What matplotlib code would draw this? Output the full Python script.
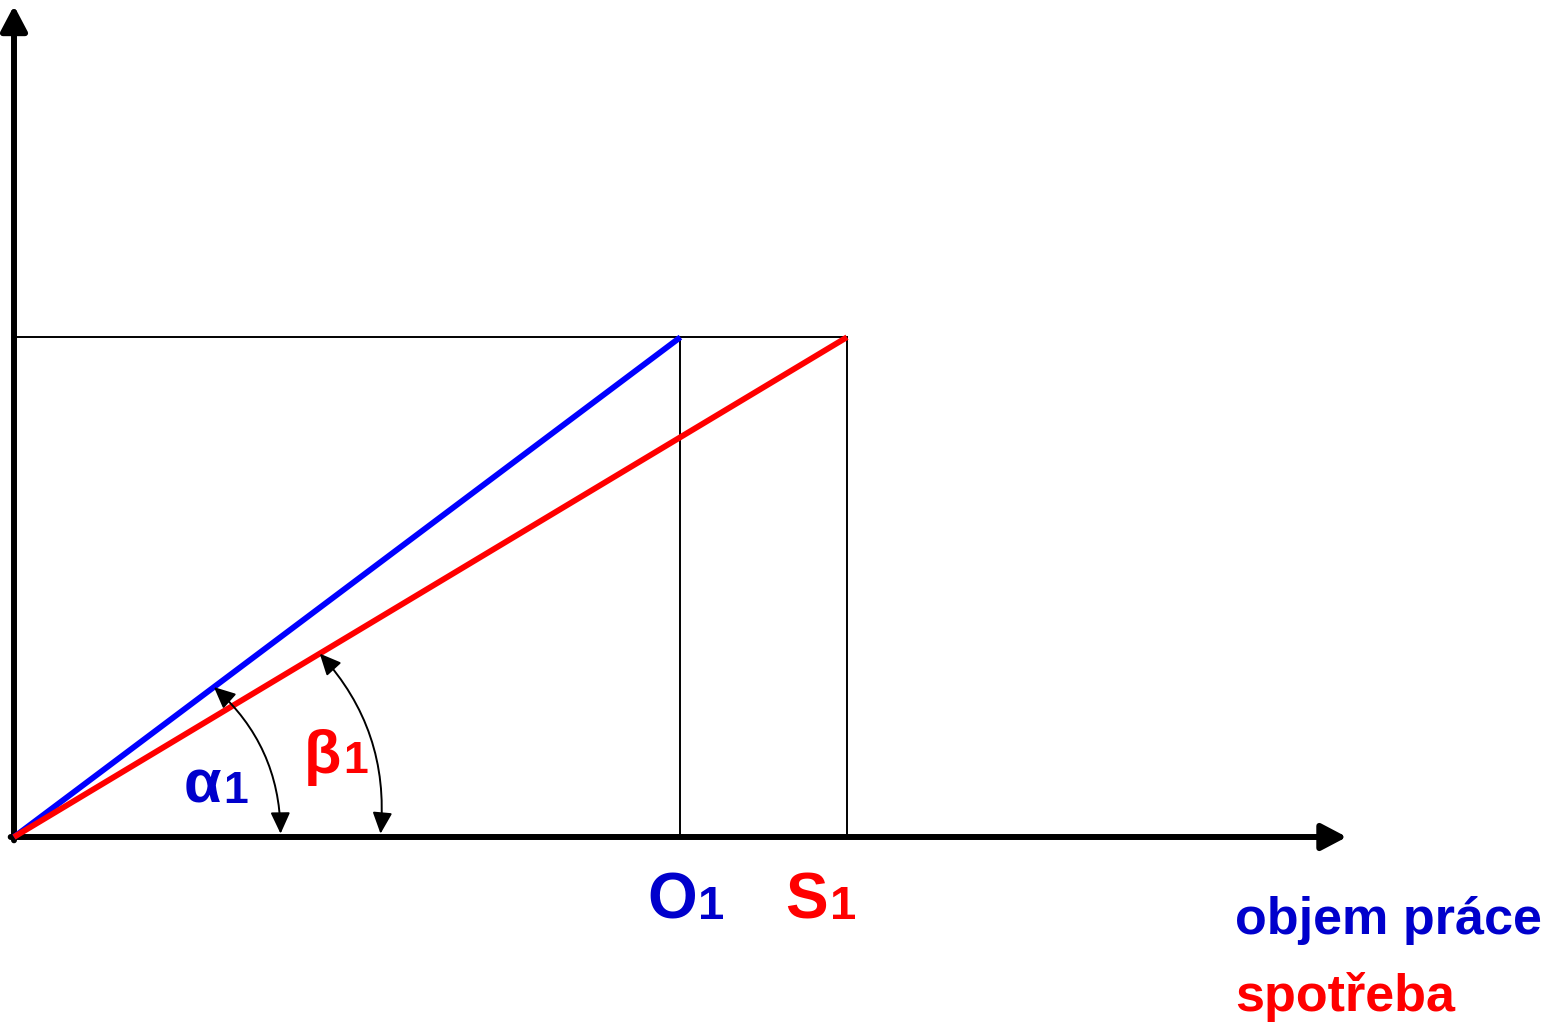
import numpy as np
import matplotlib
matplotlib.use("Agg")
import matplotlib.pyplot as plt

# diagram values (abstract units)
level = 3.0                     # common height reached by both lines
o1, s1 = 4.0, 5.0               # objem práce / spotřeba on the x axis
x_axis_end, y_axis_end = 8.0, 4.99
alpha_r = (1.60, 1.50)          # angle arrow radius: on x axis, on the line
beta_r = (2.20, 2.14)

BLUE_LINE, RED = "#0000FF", "#FF0000"
BLUE_TEXT = "#0000CC"
FONT = ["Liberation Sans", "DejaVu Sans"]

scale = 166.6   # px per unit
ox, oy = 14, 837  # origin in pixels
W, H = 1559, 1026

fig = plt.figure(figsize=(W / 100, H / 100), dpi=100)
ax = fig.add_axes([0, 0, 1, 1])
ax.set_xlim(-ox / scale, (W - ox) / scale)
ax.set_ylim(-(H - oy) / scale, oy / scale)
ax.axis("off")

# axes with arrow heads
axis_kw = dict(arrowstyle="-|>,head_length=0.38,head_width=0.2",
               lw=4.3, color="black", shrinkA=0, shrinkB=0, mutation_scale=40)
ax.annotate("", xy=(0, y_axis_end), xytext=(0, -0.02), arrowprops=axis_kw)
ax.annotate("", xy=(x_axis_end, 0), xytext=(-0.02, 0), arrowprops=axis_kw)

# thin guide lines
ax.plot([0, s1], [level, level], color="black", lw=1.4, zorder=2)
ax.plot([o1, o1], [0, level], color="black", lw=1.4, zorder=2)
ax.plot([s1, s1], [0, level], color="black", lw=1.4, zorder=2)

# the two rays
ax.plot([0, o1], [0, level], color=BLUE_LINE, lw=4.2, solid_capstyle="butt", zorder=3)
ax.plot([0, s1], [0, level], color=RED, lw=4.2, solid_capstyle="butt", zorder=4)

# angle arrows
arc_kw = dict(arrowstyle="<|-|>,head_length=0.65,head_width=0.3",
              lw=1.4, color="black", shrinkA=0, shrinkB=0, mutation_scale=20,
              connectionstyle="arc3,rad=0.22")
for (r_base, r_tip), (xe, ye) in [(alpha_r, (o1, level)), (beta_r, (s1, level))]:
    d = np.hypot(xe, ye)
    tip = (r_tip * xe / d, r_tip * ye / d)
    ax.annotate("", xy=tip, xytext=(r_base, 0.02), arrowprops=arc_kw, zorder=5)

renderer = fig.canvas.get_renderer()


def label(x, y, main, sub, color, size, sub_size, gap=0.01):
    t = ax.text(x, y, main, color=color, fontsize=size, fontweight="bold",
                family=FONT, ha="left", va="baseline")
    x1 = ax.transData.inverted().transform(t.get_window_extent(renderer))[1, 0]
    ax.text(x1 + gap, y, sub, color=color, fontsize=sub_size, fontweight="bold",
            family=FONT, ha="left", va="baseline")


label(1.02, 0.205, "α", "1", BLUE_TEXT, 44, 32)
label(1.74, 0.385, "β", "1", RED, 44, 32)
label(3.80, -0.49, "O", "1", BLUE_TEXT, 46, 34)
label(4.63, -0.49, "S", "1", RED, 46, 34)

ax.text(7.33, -0.58, "objem práce", color=BLUE_TEXT, fontsize=37.5,
        fontweight="bold", family=FONT, ha="left", va="baseline")
ax.text(7.33, -1.045, "spotřeba", color=RED, fontsize=37.5,
        fontweight="bold", family=FONT, ha="left", va="baseline")

fig.savefig("out.png", dpi=100)
